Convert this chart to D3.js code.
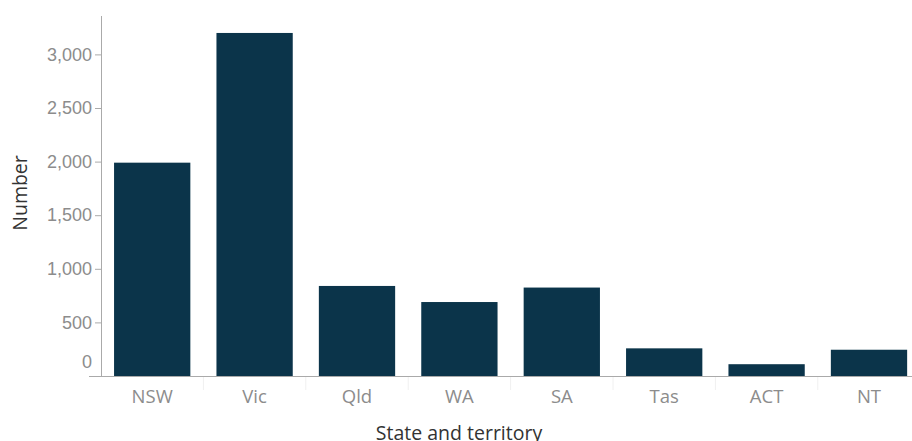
<!DOCTYPE html>
<html>
<head>
<meta charset="utf-8">
<script src="https://cdn.jsdelivr.net/npm/d3@7"></script>
<style>
  body { margin: 0; background: #fff; }
  svg { display: block; font-family: "Open Sans", "Noto Sans", sans-serif; }
</style>
</head>
<body>
<svg width="912" height="441"></svg>
<script>
var states = ['NSW', 'Vic', 'Qld', 'WA', 'SA', 'Tas', 'ACT', 'NT'];
var counts = [1990, 3200, 840, 690, 825, 258, 110, 245];
var yTicks = [0, 500, 1000, 1500, 2000, 2500, 3000];

var svg = d3.select('svg');
var margin = {top: 16, left: 101, bottom: 65};
var baseY = 441 - margin.bottom;

var x = d3.scaleBand()
    .domain(states)
    .range([margin.left, margin.left + 102.4 * states.length])
    .paddingInner(0.255)
    .paddingOuter(0.1275);

var y = d3.scaleLinear()
    .domain([0, 500])
    .range([baseY, baseY - 53.6]);

// faint category separators under the axis
svg.append('g')
    .selectAll('line')
    .data(states.slice(1))
    .enter()
    .append('line')
    .attr('x1', function(d) { return x(d) - x.step() * x.paddingInner() / 2; })
    .attr('x2', function(d) { return x(d) - x.step() * x.paddingInner() / 2; })
    .attr('y1', baseY)
    .attr('y2', baseY + 14)
    .attr('stroke', '#f0f0f0');

svg.append('g')
    .selectAll('rect')
    .data(counts)
    .enter()
    .append('rect')
    .attr('x', function(d, i) { return x(states[i]); })
    .attr('y', function(d) { return y(d); })
    .attr('width', x.bandwidth())
    .attr('height', function(d) { return baseY - y(d); })
    .attr('fill', '#0b344a');

// y axis
var yAxis = svg.append('g')
    .attr('transform', 'translate(' + margin.left + ',0)')
    .call(d3.axisLeft(y).tickValues(yTicks).tickSize(6).tickFormat(d3.format(',')));
yAxis.select('.domain').remove();
yAxis.selectAll('line').attr('stroke', '#aaa');
yAxis.selectAll('text')
    .attr('fill', '#8c8c8c')
    .style('font-size', '18px')
    .attr('x', -9);
// tableau-style: the 0 label is nudged up and has no tick
yAxis.selectAll('.tick').filter(function(d) { return d === 0; })
    .each(function() {
        d3.select(this).select('line').remove();
        d3.select(this).select('text').attr('dy', '-0.45em');
    });

svg.append('line')
    .attr('x1', margin.left + 0.5).attr('x2', margin.left + 0.5)
    .attr('y1', margin.top).attr('y2', baseY)
    .attr('stroke', '#aaa');

svg.append('line')
    .attr('x1', margin.left - 12).attr('x2', 912)
    .attr('y1', baseY + 0.5).attr('y2', baseY + 0.5)
    .attr('stroke', '#aaa');

// x labels
svg.append('g')
    .selectAll('text')
    .data(states)
    .enter()
    .append('text')
    .attr('x', function(d) { return x(d) + x.bandwidth() / 2; })
    .attr('y', 403)
    .attr('text-anchor', 'middle')
    .attr('fill', '#8c8c8c')
    .style('font-size', '18.5px')
    .text(function(d) { return d; });

svg.append('text')
    .attr('x', 459)
    .attr('y', 440)
    .attr('text-anchor', 'middle')
    .attr('fill', '#333')
    .style('font-size', '19.5px')
    .text('State and territory');

svg.append('text')
    .attr('transform', 'translate(27,193) rotate(-90)')
    .attr('text-anchor', 'middle')
    .attr('fill', '#333')
    .style('font-size', '19.5px')
    .text('Number');
</script>
</body>
</html>
